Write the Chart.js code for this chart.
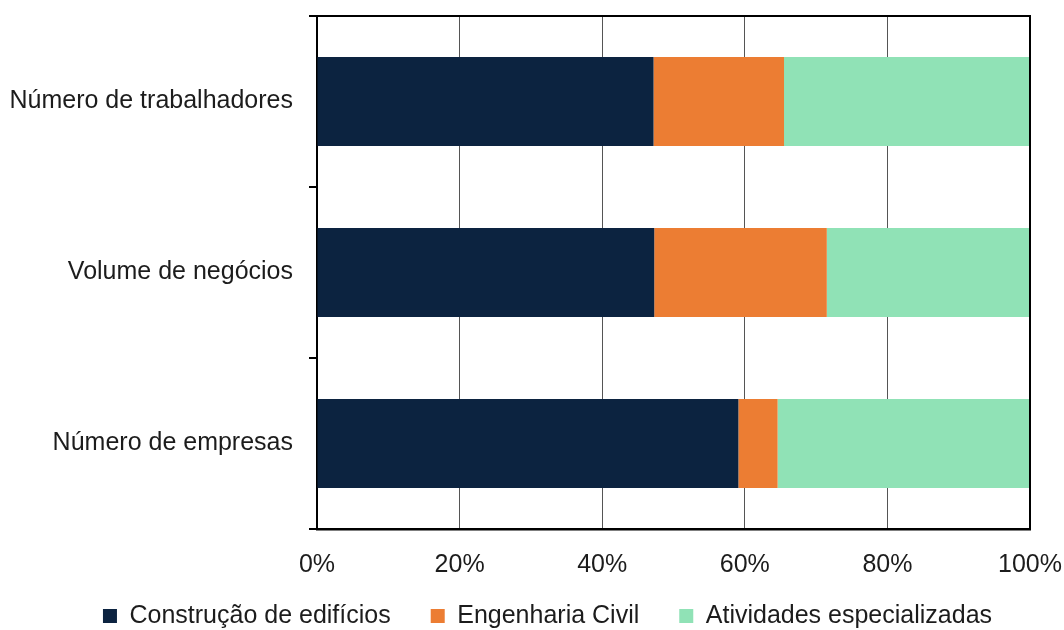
<!DOCTYPE html>
<html lang="pt">
<head>
<meta charset="utf-8">
<title>Estrutura do setor da construção</title>
<script src="https://cdn.jsdelivr.net/npm/chart.js@4.4.1/dist/chart.umd.min.js"></script>
<style>
  html, body { margin: 0; padding: 0; background: #ffffff; }
  #wrap { position: relative; width: 1064px; height: 630px; }
</style>
</head>
<body>
<div id="wrap"><canvas id="chart" width="1064" height="630"></canvas></div>
<script>
// Categories (top to bottom) and share of each sub-sector, in %
const categories = ['Número de trabalhadores', 'Volume de negócios', 'Número de empresas'];
const construcaoEdificios = [47.2, 47.3, 59.1];
const engenhariaCivil = [18.3, 24.2, 5.5];
const atividadesEspecializadas = [34.5, 28.5, 35.4];
const xTicks = [0, 20, 40, 60, 80, 100];

const FONT = '"Liberation Sans", Arial, sans-serif';
const TEXT = '#1c1c1c';
const SIZE = 25;

// Closes the plot box with the top and right borders
const frame = {
  id: 'frame',
  afterDatasetsDraw(chart) {
    const { ctx, chartArea: a } = chart;
    ctx.save();
    ctx.strokeStyle = '#000';
    ctx.lineWidth = 2;
    ctx.beginPath();
    ctx.moveTo(a.left, a.top);
    ctx.lineTo(a.right, a.top);
    ctx.lineTo(a.right, a.bottom);
    ctx.stroke();
    ctx.restore();
  }
};

// Places the legend row just under the axis labels, centred under the plot
const legendPlacement = {
  id: 'legendPlacement',
  afterLayout(chart) {
    const lg = chart.legend;
    const h = lg.bottom - lg.top;
    const w = lg.right - lg.left;
    lg.top = 563.5;
    lg.bottom = lg.top + h;
    lg.left = 32.5;
    lg.right = lg.left + w;
  }
};

new Chart(document.getElementById('chart'), {
  type: 'bar',
  data: {
    labels: categories,
    datasets: [
      { label: 'Construção de edifícios', data: construcaoEdificios, backgroundColor: '#0c2340' },
      { label: 'Engenharia Civil', data: engenhariaCivil, backgroundColor: '#ec7d33' },
      { label: 'Atividades especializadas', data: atividadesEspecializadas, backgroundColor: '#90e2b6' }
    ]
  },
  options: {
    indexAxis: 'y',
    responsive: false,
    animation: false,
    devicePixelRatio: 1,
    datasets: { bar: { barPercentage: 0.52, categoryPercentage: 1, borderWidth: 0 } },
    layout: { padding: { top: 16, right: 34, left: 0, bottom: -29 } },
    scales: {
      x: {
        stacked: true,
        min: 0,
        max: 100,
        afterBuildTicks(scale) { scale.ticks = xTicks.map(v => ({ value: v })); },
        afterFit(scale) {
          scale.height = 55;
          scale.paddingLeft = 0;
          scale.paddingRight = 0;
        },
        grid: { color: '#555', lineWidth: 1, drawTicks: false },
        border: { color: '#000', width: 2.5 },
        ticks: {
          padding: 21,
          color: TEXT,
          font: { family: FONT, size: SIZE },
          callback: v => v + '%'
        }
      },
      y: {
        stacked: true,
        afterFit(scale) {
          scale.width = 317;
          scale.paddingTop = 0;
          scale.paddingBottom = 0;
        },
        grid: { offset: true, drawOnChartArea: false, color: '#000', lineWidth: 2, tickLength: 8 },
        border: { color: '#000', width: 2 },
        ticks: {
          padding: 16,
          color: TEXT,
          font: { family: FONT, size: SIZE }
        }
      }
    },
    plugins: {
      legend: {
        position: 'bottom',
        labels: {
          boxWidth: 14,
          boxHeight: 14,
          padding: 40,
          color: TEXT,
          font: { family: FONT, size: SIZE }
        }
      },
      tooltip: { enabled: false }
    }
  },
  plugins: [frame, legendPlacement]
});
</script>
</body>
</html>
